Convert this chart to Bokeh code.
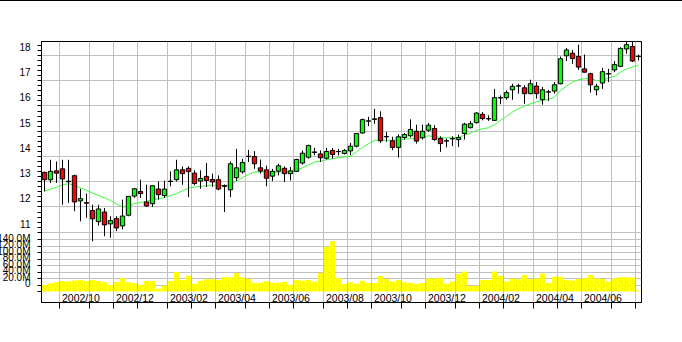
import pandas as pd
from bokeh.plotting import figure
from bokeh.models import (Range1d, FixedTicker, ColumnDataSource, LabelSet,
                          CustomJSTickFormatter, AllLabels)
from bokeh.embed import file_html
from bokeh.resources import INLINE
from bokeh.core.properties import value

# ---------------- data (weekly bars) ----------------
first_week = "2002-09-11"

open_ = [13.37, 13.08, 13.43, 13.51, 13.02, 13.24, 12.24, 12.17, 11.86, 11.42,
         11.80, 11.33, 11.54, 11.25, 11.67, 12.43, 12.61, 12.20, 12.13, 12.71,
         12.45, 13.02, 13.08, 13.47, 13.53, 13.34, 13.03, 13.21, 13.09, 13.08,
         12.84, 12.68, 13.16, 13.39, 14.01, 14.00, 13.55, 13.47, 13.22, 13.42,
         13.53, 13.32, 13.41, 13.74, 13.97, 14.16, 14.10, 13.93, 14.24, 14.19,
         14.12, 14.22, 14.41, 14.93, 15.40, 15.47, 15.54, 14.79, 14.62, 14.36,
         14.75, 14.82, 15.00, 14.74, 15.04, 15.11, 14.71, 14.62, 14.70, 14.67,
         14.91, 15.14, 15.34, 15.67, 15.50, 15.43, 16.33, 16.33, 16.64, 16.80,
         16.72, 16.49, 16.79, 16.25, 16.55, 16.59, 16.88, 17.99, 18.09, 17.96,
         17.47, 17.28, 16.64, 16.91, 17.27, 17.43, 17.57, 18.26, 18.36, 17.97]
high = [13.40, 13.87, 13.80, 13.87, 13.87, 13.28, 12.72, 12.53, 12.09, 12.09,
        11.96, 11.63, 11.63, 12.29, 12.42, 12.75, 13.08, 12.88, 12.84, 13.01,
        13.04, 13.41, 13.87, 13.61, 13.61, 13.45, 13.45, 13.74, 13.32, 13.25,
        12.89, 13.80, 14.30, 13.91, 14.26, 14.21, 13.88, 13.64, 13.51, 13.71,
        13.61, 13.58, 13.91, 14.24, 14.47, 14.34, 14.24, 14.34, 14.34, 14.30,
        14.29, 14.54, 14.93, 15.50, 15.57, 15.89, 15.79, 14.97, 14.78, 14.88,
        14.93, 15.47, 15.26, 15.26, 15.33, 15.24, 14.80, 14.71, 14.80, 14.87,
        15.33, 15.41, 15.76, 15.76, 15.63, 16.68, 16.42, 16.62, 16.88, 16.88,
        16.82, 17.04, 16.95, 16.75, 16.64, 16.95, 17.96, 18.30, 18.22, 18.43,
        18.04, 17.32, 16.88, 17.51, 17.47, 17.78, 18.33, 18.53, 18.53, 18.04]
low = [12.62, 12.95, 12.95, 12.09, 12.16, 11.83, 11.43, 11.57, 10.64, 11.26,
       10.84, 10.78, 11.04, 11.11, 11.63, 12.36, 12.36, 12.00, 12.00, 12.29,
       12.36, 12.82, 13.01, 12.88, 12.39, 12.86, 12.72, 12.79, 12.79, 12.66,
       11.80, 12.39, 13.03, 13.32, 13.78, 13.51, 13.32, 12.82, 13.03, 13.25,
       12.99, 13.05, 13.38, 13.68, 13.91, 14.05, 13.78, 13.88, 13.91, 14.04,
       14.08, 14.05, 14.36, 14.91, 15.20, 15.30, 14.54, 14.58, 14.25, 13.96,
       14.67, 14.75, 14.51, 14.67, 14.97, 14.62, 14.18, 14.36, 14.41, 14.38,
       14.67, 15.11, 15.30, 15.43, 15.41, 15.41, 16.07, 16.25, 16.25, 16.49,
       16.09, 16.46, 16.29, 16.05, 16.20, 16.49, 16.86, 17.78, 17.67, 17.43,
       17.32, 16.53, 16.42, 16.68, 16.95, 17.34, 17.54, 18.07, 17.74, 17.80]
close = [13.08, 13.41, 13.34, 13.11, 13.00, 12.20, 12.33, 12.15, 11.53, 11.92,
         11.29, 11.46, 11.17, 11.64, 12.42, 12.72, 12.53, 12.04, 12.84, 12.49,
         12.71, 13.01, 13.47, 13.32, 13.40, 12.93, 13.13, 13.05, 12.99, 12.71,
         12.82, 13.71, 13.55, 13.76, 14.00, 13.71, 13.42, 13.14, 13.41, 13.63,
         13.32, 13.43, 13.88, 14.13, 14.43, 14.18, 13.95, 14.20, 14.08, 14.20,
         14.24, 14.41, 14.91, 15.46, 15.41, 15.49, 14.62, 14.78, 14.36, 14.78,
         14.87, 15.07, 14.61, 15.00, 15.24, 14.67, 14.51, 14.61, 14.71, 14.75,
         15.28, 15.30, 15.72, 15.50, 15.49, 16.33, 16.32, 16.53, 16.78, 16.79,
         16.49, 16.88, 16.49, 16.64, 16.56, 16.84, 17.87, 18.22, 17.88, 17.54,
         17.34, 16.84, 16.78, 17.36, 17.28, 17.64, 18.28, 18.43, 17.78, 17.96]
volume_m = [20.5, 25.6, 28.7, 32.8, 30.8, 33.9, 35.9, 32.8, 35.9, 32.8,
            28.7, 20.5, 29.8, 42.0, 28.7, 25.6, 20.5, 32.8, 32.8, 8.2,
            18.5, 32.8, 60.5, 35.9, 49.2, 24.0, 33.0, 38.0, 38.0, 36.0,
            44.0, 44.0, 57.0, 44.0, 39.0, 26.0, 27.0, 32.0, 27.0, 27.0,
            30.0, 21.0, 36.0, 34.0, 36.0, 30.0, 57.0, 139.0, 156.0, 42.0,
            23.0, 29.0, 24.0, 33.0, 26.0, 26.0, 48.0, 39.0, 31.0, 36.0,
            29.0, 26.0, 24.0, 26.0, 40.0, 40.0, 42.0, 24.0, 31.0, 54.0,
            62.0, 17.0, 18.0, 36.0, 36.0, 62.0, 48.0, 31.0, 40.0, 38.0,
            51.0, 38.0, 40.0, 56.0, 26.0, 46.0, 46.0, 36.0, 34.0, 39.0,
            41.0, 51.0, 40.0, 39.0, 31.0, 41.0, 44.0, 44.0, 43.0, 3.0]
moving_avg = [12.63, 12.70, 12.78, 12.88, 12.92, 12.86, 12.75, 12.66, 12.55, 12.45,
              12.36, 12.25, 12.12, 12.00, 12.02, 12.14, 12.18, 12.22, 12.29, 12.32,
              12.37, 12.45, 12.53, 12.64, 12.75, 12.79, 12.82, 12.84, 12.86, 12.86,
              12.83, 12.88, 13.03, 13.16, 13.29, 13.38, 13.39, 13.38, 13.37, 13.39,
              13.37, 13.39, 13.45, 13.55, 13.66, 13.78, 13.82, 13.87, 13.91, 13.95,
              13.98, 14.01, 14.18, 14.36, 14.51, 14.64, 14.64, 14.64, 14.64, 14.67,
              14.68, 14.71, 14.72, 14.75, 14.82, 14.78, 14.75, 14.74, 14.74, 14.75,
              14.84, 14.93, 15.04, 15.09, 15.14, 15.26, 15.43, 15.59, 15.76, 15.89,
              15.99, 16.09, 16.16, 16.22, 16.26, 16.36, 16.62, 16.78, 16.95, 17.04,
              17.08, 17.08, 17.01, 17.01, 17.12, 17.17, 17.34, 17.47, 17.54, 17.61]

price_ticks = [11, 12, 13, 14, 15, 16, 17, 18]
price_labels = ["11", "12", "13", "14", "15", "16", "17", "18"]
volume_ticks = [0, 20, 40, 60, 80, 100, 120, 140]
volume_labels = ["0", "20.0M", "40.0M", "60.0M", "80.0M", "100.0M", "120.0M", "140.0M"]
x_label_texts = ["2002/10", "2002/12", "2003/02", "2003/04", "2003/06", "2003/08",
                 "2003/10", "2003/12", "2004/02", "2004/04", "2004/06"]

# ---------------- layout constants ----------------
PRICE_LO, PRICE_HI = 8.215, 18.555
VOL_LO, VOL_HI = -34.1, 775.2
FRAME_H = 261.0
LABEL_LIFT_PX = 8.0
SHIFT = 19          # canvas is pushed left so the frame starts at x = 41
GRID = "#c0c0c0"
FONT = "Liberation Sans"

n = len(close)
idx = list(range(n))
weeks = pd.date_range(first_week, periods=n, freq="7D")

month_ticks = []
month_names = []
for i in range(1, n):
    if weeks[i].month != weeks[i - 1].month:
        month_ticks.append(i - 0.5)
        month_names.append(weeks[i].strftime("%Y/%m"))
label_x = [month_ticks[month_names.index(t)] for t in x_label_texts]

src = ColumnDataSource(dict(
    x=idx, open=open_, high=high, low=low, close=close, vol=volume_m, ma=moving_avg,
    top=[max(o, c) for o, c in zip(open_, close)],
    bottom=[min(o, c) for o, c in zip(open_, close)],
    color=["#00ff00" if c >= o else "#ff0000" for o, c in zip(open_, close)],
))

p = figure(width=682 + SHIFT, height=341, output_backend="svg", toolbar_location=None,
           x_range=Range1d(-0.5, n - 0.5), y_range=Range1d(PRICE_LO, PRICE_HI),
           min_border_left=41 + SHIFT, min_border_right=41, min_border_top=40,
           min_border_bottom=40)
p.styles = {"border-top": "1px solid black", "margin-left": f"-{SHIFT}px"}
p.extra_y_ranges = {"vol": Range1d(VOL_LO, VOL_HI)}
p.background_fill_color = "white"
p.border_fill_color = "white"
p.outline_line_color = "black"
p.outline_line_alpha = 1.0
p.outline_line_width = 1


def vol_to_price(v):
    return PRICE_LO + (v - VOL_LO) * (PRICE_HI - PRICE_LO) / (VOL_HI - VOL_LO)


lift = LABEL_LIFT_PX * (PRICE_HI - PRICE_LO) / FRAME_H
vol_grid_vals = volume_ticks + [160]
vol_tick_pos = [vol_to_price(v) for v in vol_grid_vals]
price_minor = [11 + 0.2 * k for k in range(0, 38)]

label_pos = [t + lift for t in price_ticks] + [vol_to_price(v) + lift for v in volume_ticks]
label_txt = price_labels + volume_labels

# y axis: labels sit a little above their tick marks, as in the reference
yax = p.yaxis[0]
yax.ticker = FixedTicker(ticks=label_pos,
                         minor_ticks=price_minor + vol_tick_pos)
yax.formatter = CustomJSTickFormatter(args=dict(pos=label_pos, txt=label_txt), code="""
let best = -1, bd = 1e9;
for (let i = 0; i < pos.length; i++) {
  const d = Math.abs(pos[i] - tick);
  if (d < bd) { bd = d; best = i; }
}
return bd < 1e-6 ? txt[best] : '';
""")
yax.major_label_policy = AllLabels()
yax.major_tick_out = 0
yax.major_tick_in = 0
yax.major_tick_line_color = None
yax.minor_tick_out = 4
yax.minor_tick_in = 0
yax.minor_tick_line_color = "black"
yax.axis_line_color = "black"
yax.major_label_standoff = 7
yax.major_label_text_font = FONT
yax.major_label_text_font_size = "10px"
yax.major_label_text_color = "black"

xax = p.xaxis[0]
xax.ticker = FixedTicker(ticks=month_ticks)
xax.formatter = CustomJSTickFormatter(code="return ''")
xax.major_tick_out = 6
xax.major_tick_in = 0
xax.minor_tick_line_color = None
xax.axis_line_color = "black"
xax.major_tick_line_color = "black"

p.ygrid[0].ticker = FixedTicker(ticks=price_ticks + vol_tick_pos[1:])
p.ygrid[0].grid_line_color = GRID
p.xgrid[0].ticker = FixedTicker(ticks=month_ticks)
p.xgrid[0].grid_line_color = GRID

# volume bars
p.vbar(x="x", top="vol", bottom=0, width=0.83, source=src, y_range_name="vol",
       fill_color="#ffff00", line_color=None)

# moving average
p.line(x="x", y="ma", source=src, line_color="#33ff33", line_width=1)

# candles
p.segment(x0="x", y0="low", x1="x", y1="high", source=src, line_color="black",
          line_width=1)
p.vbar(x="x", top="top", bottom="bottom", width=0.72, source=src,
       fill_color="color", line_color="black", line_width=1)

# month labels, left-aligned just after their tick, inside the plot area
xl_src = ColumnDataSource(dict(x=label_x, text=x_label_texts))
p.add_layout(LabelSet(x="x", y=11, text="text", source=xl_src, y_units="screen",
                      x_offset=2.5, text_align="left", text_baseline="top",
                      text_font=value(FONT), text_font_size="10.5px",
                      text_color="black"))

open("out.html", "w").write(file_html(p, INLINE))
